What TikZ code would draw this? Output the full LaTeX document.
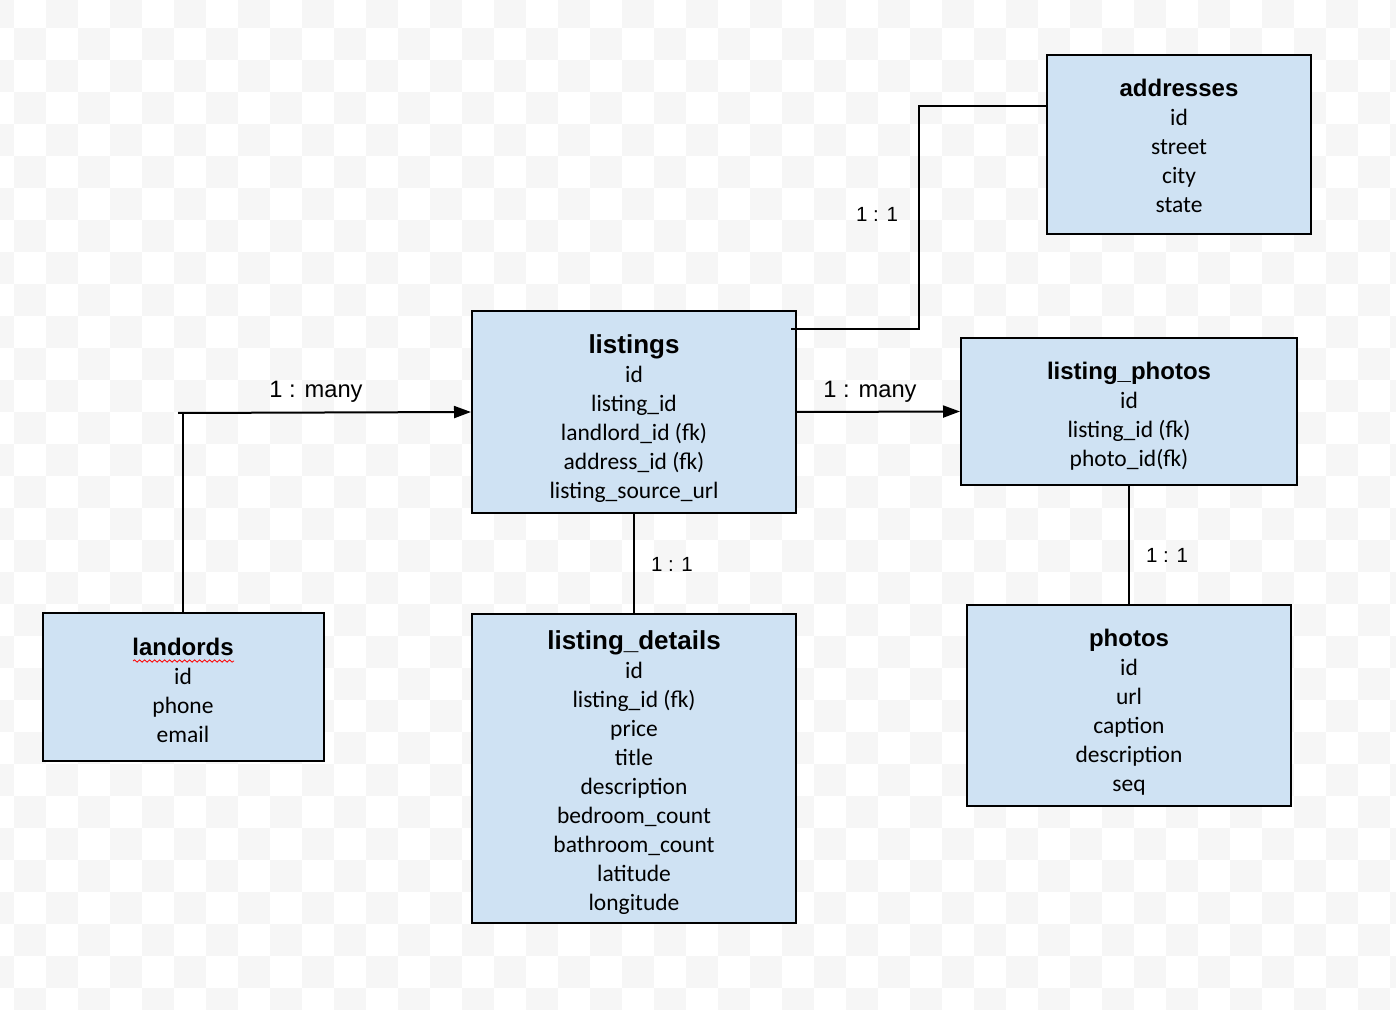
\documentclass[tikz,border=0pt]{standalone}
\usepackage{fontspec}
\setmainfont{Carlito}
\newfontfamily\headfont{Liberation Sans}
\usetikzlibrary{shapes,arrows.meta,decorations.pathmorphing}
\definecolor{tablefill}{HTML}{CFE2F3}
\definecolor{checker}{HTML}{F6F6F6}
\tikzstyle{entity} = [rectangle, draw, line width=1pt, fill=tablefill,
align=center, inner sep=0pt, font=\fontsize{11.75}{14.5}\selectfont]
\tikzstyle{line} = [draw, line width=1pt]
\tikzstyle{arrowline} = [draw, line width=1pt, -{Triangle[length=8.5pt,width=6pt]}]
\tikzstyle{card} = [inner sep=0pt, font=\headfont\fontsize{10.25}{12}\selectfont]
\tikzstyle{cardmany} = [inner sep=0pt, font=\headfont\fontsize{11.85}{14}\selectfont]
% title of a table: \tbl[size]{strut height}{name}
\newcommand{\tbl}[3][12]{{\headfont\bfseries\fontsize{#1}{14.5}\selectfont\rule{0pt}{#2}#3}}

\begin{document}
\begin{tikzpicture}[x=0.5pt, y=-0.5pt]
\useasboundingbox (0,0) rectangle (1396,1010);
% background checkerboard
\begin{scope}
\clip (0,0) rectangle (1396,1010);
\fill[white] (0,0) rectangle (1396,1010);
\foreach \r in {0,...,31} {
  \pgfmathtruncatemacro\cs{mod(\r,2)}
  \pgfmathtruncatemacro\cn{\cs+2}
  \foreach \c in {\cs,\cn,...,44}
    \fill[checker] (32*\c-18,32*\r-4) rectangle (32*\c+14,32*\r+28);
}
\end{scope}

% tables
\node [entity, minimum width=132pt, minimum height=89.5pt] (AD) at (1179,144.5)
  {\tbl{9.6pt}{addresses}\\ id\\ street\\ city\\ state};
\node [entity, minimum width=162pt, minimum height=101pt] (LS) at (634,412)
  {\tbl[13]{16.5pt}{listings}\\ id\\ listing\_id\\ landlord\_id (fk)\\ address\_id (fk)\\ listing\_source\_url};
\node [entity, minimum width=168pt, minimum height=73.5pt] (LP) at (1129,411.5)
  {\tbl{13.6pt}{listing\_photos}\\ id\\ listing\_id (fk)\\ photo\_id(fk)};
\node [entity, minimum width=140.5pt, minimum height=74pt] (LL) at (183,687)
  {\tbl{11.6pt}{landords}\\ id\\ phone\\ email};
\node [entity, minimum width=162pt, minimum height=154.5pt] (LD) at (634,768.5)
  {\tbl[13]{14pt}{listing\_details}\\ id\\ listing\_id (fk)\\ price\\ title\\ description\\ bedroom\_count\\ bathroom\_count\\ latitude\\ longitude};
\node [entity, minimum width=162pt, minimum height=100.5pt] (PH) at (1129,705.5)
  {\tbl{15.6pt}{photos}\\ id\\ url\\ caption\\ description\\ seq};

% spell-check underline
\draw[red, line width=0.4pt, decorate, decoration={snake, amplitude=0.6pt, segment length=2.5pt}]
  (133,661) -- (234,661);

% connectors
\coordinate (LLstub) at (178,413);
\coordinate (ADbend) at (919,329);
\coordinate (ADtop) at (919,106);
\path [line] (LL.north) -- (LL.north |- LLstub);
\path [arrowline] (LLstub) -- (LS.west);
\path [arrowline] (LS.east) -- (LP.west);
\path [line] ([xshift=-3pt]LS.east |- ADbend) -- (ADbend) -- (ADtop) -- (AD.west |- ADtop);
\path [line] (LS.south) -- (LD.north);
\path [line] (LP.south) -- (PH.north);

% cardinalities
\node [cardmany] (m1) at (316,392) {1 : many};
\node [cardmany] (m2) at (870,392) {1 : many};
\node [card] (o1) at (877,214) {1 : 1};
\node [card] (o2) at (672,564) {1 : 1};
\node [card] (o3) at (1167,555) {1 : 1};
\end{tikzpicture}
\end{document}
